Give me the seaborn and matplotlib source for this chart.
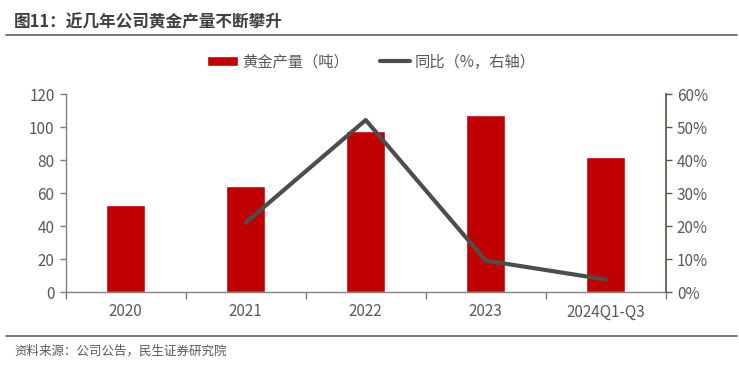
import matplotlib
matplotlib.use("Agg")
import matplotlib.pyplot as plt
import seaborn as sns
import pandas as pd
import numpy as np
from matplotlib.ticker import FuncFormatter, FixedLocator

categories = ["2020", "2021", "2022", "2023", "2024Q1-Q3"]
gold_output = [53, 64.2, 97.8, 107.5, 82.2]
yoy_pct = [np.nan, 21.1, 52.2, 9.6, 3.9]

sns.set_theme(style="white")
plt.rcParams['font.family'] = ['Noto Sans CJK SC', 'DejaVu Sans']

df = pd.DataFrame({"cat": categories, "gold": gold_output, "yoy": yoy_pct})

fig = plt.figure(figsize=(7.39, 3.65), dpi=100)
ax = fig.add_axes([65.7/739, 1-292.3/365, 600/739, 198/365])
txt = "#595959"
bar_c = "#C00000"
line_c = "#4D4D4D"

sns.barplot(data=df, x="cat", y="gold", color=bar_c, width=0.325, ax=ax,
            saturation=1, label="黄金产量（吨）")
if ax.get_legend() is not None:
    ax.get_legend().remove()
ax.set_ylim(0, 120)
ax.set_xlim(-0.5, 4.5)
ax.set_yticks(range(0, 121, 20))
ax.set_xlabel("")
ax.set_ylabel("")
for s in ["top", "right"]:
    ax.spines[s].set_visible(False)
for s in ["left", "bottom"]:
    ax.spines[s].set_color("#808080")
    ax.spines[s].set_linewidth(1)
ax.tick_params(axis="y", colors=txt, labelsize=11, length=4, width=1, left=True, color="#808080", pad=4)
ax.tick_params(axis="x", colors=txt, labelsize=11, length=0, pad=8)
ax.xaxis.set_minor_locator(FixedLocator(np.arange(-0.5, 5, 1)))
ax.tick_params(axis="x", which="minor", bottom=True, length=5, width=1, color="#808080")

ax2 = ax.twinx()
x = np.arange(len(categories))
sns.lineplot(x=x, y=df["yoy"], color=line_c, linewidth=3, ax=ax2,
             label="同比（%，右轴）", legend=False)
ax2.set_ylim(0, 60)
ax2.set_yticks(range(0, 61, 10))
ax2.yaxis.set_major_formatter(FuncFormatter(lambda v, p: f"{int(v)}%"))
ax2.set_ylabel("")
for s in ["top", "left", "bottom"]:
    ax2.spines[s].set_visible(False)
ax2.spines["right"].set_color("#5a5a48")
ax2.tick_params(axis="y", colors=txt, labelsize=11, length=4, width=1, right=True, color="#5a5a48", pad=4)
ax2.set_xlim(-0.5, 4.5)

h1, l1 = ax.get_legend_handles_labels()
h2, l2 = ax2.get_legend_handles_labels()
leg = fig.legend(h1 + h2, l1 + l2, loc="center", bbox_to_anchor=(0.503, 1-62/365), ncol=2,
                 frameon=False, fontsize=11, handlelength=2.0, handleheight=0.6,
                 columnspacing=2.0, handletextpad=0.3)
for t in leg.get_texts():
    t.set_color(txt)

fig.text(14/739, 1-22/365, "图11：近几年公司黄金产量不断攀升", fontsize=12, fontweight="bold",
         color="#404040", va="center", ha="left")
fig.add_artist(plt.Line2D([6/739, 737/739], [1-35/365, 1-35/365], color="#606060", linewidth=1.2))
fig.add_artist(plt.Line2D([6/739, 737/739], [1-336/365, 1-336/365], color="#606060", linewidth=1.2))
fig.text(14/739, 1-351/365, "资料来源：公司公告，民生证券研究院", fontsize=9, color=txt,
         va="center", ha="left")

fig.savefig("out.png", dpi=100)
